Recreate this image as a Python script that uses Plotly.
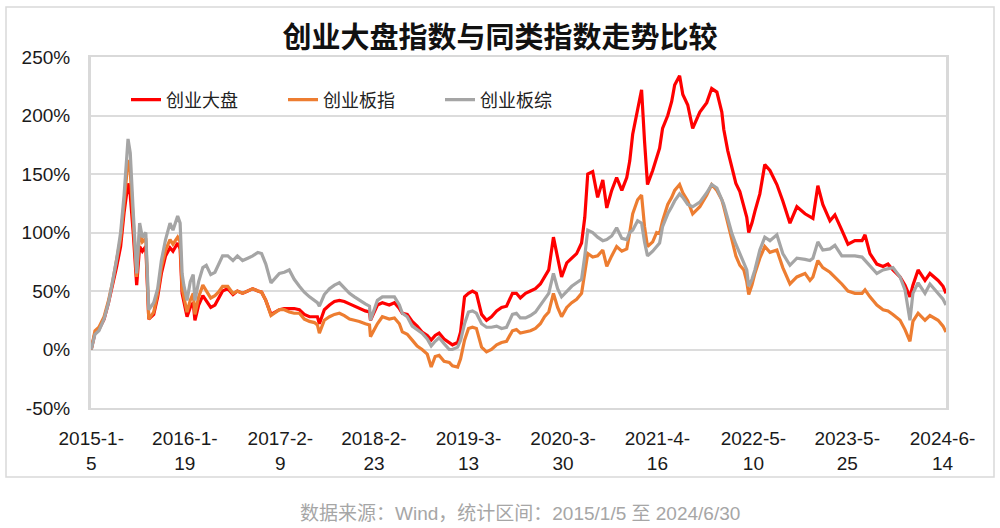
import plotly.graph_objects as go

dates = [
    "2015-01-05", "2015-01-20", "2015-02-05", "2015-02-26", "2015-03-16", "2015-04-02", "2015-04-17",
    "2015-05-04", "2015-05-18", "2015-06-03", "2015-06-12", "2015-06-24", "2015-07-08", "2015-07-20",
    "2015-07-31", "2015-08-14", "2015-08-26", "2015-09-15", "2015-10-01", "2015-10-16", "2015-11-02",
    "2015-11-20", "2015-12-02", "2015-12-21", "2015-12-31",
    "2016-01-08", "2016-01-15", "2016-01-28", "2016-02-10", "2016-02-22", "2016-02-29", "2016-03-15",
    "2016-04-01", "2016-04-15", "2016-05-03", "2016-05-20", "2016-06-03", "2016-06-20", "2016-07-11",
    "2016-08-01", "2016-08-19", "2016-09-09", "2016-09-30", "2016-10-20", "2016-11-10", "2016-11-25",
    "2016-12-12", "2016-12-26",
    "2017-01-02", "2017-02-05", "2017-02-25", "2017-03-17", "2017-04-06", "2017-04-27", "2017-05-17",
    "2017-06-07", "2017-06-27", "2017-07-09", "2017-07-17", "2017-08-06", "2017-08-27", "2017-09-16",
    "2017-10-06", "2017-10-26", "2017-11-16", "2017-12-06", "2017-12-26",
    "2018-01-19", "2018-02-05", "2018-02-09", "2018-03-09", "2018-03-29", "2018-04-26", "2018-05-17",
    "2018-06-06", "2018-06-18", "2018-07-08", "2018-07-28", "2018-08-17", "2018-09-06", "2018-09-27",
    "2018-10-13", "2018-10-29", "2018-11-14", "2018-12-04", "2018-12-25",
    "2019-01-07", "2019-01-28", "2019-02-09", "2019-02-25", "2019-03-13", "2019-03-29", "2019-04-14",
    "2019-05-05", "2019-05-25", "2019-06-14", "2019-07-05", "2019-07-25", "2019-08-14", "2019-09-07",
    "2019-09-23", "2019-10-09", "2019-10-30", "2019-11-19", "2019-12-09", "2019-12-29",
    "2020-01-15", "2020-02-01", "2020-02-20", "2020-03-08", "2020-03-24", "2020-04-14", "2020-05-04",
    "2020-05-24", "2020-06-13", "2020-06-26", "2020-07-08", "2020-07-28", "2020-08-17", "2020-09-07",
    "2020-09-23", "2020-10-13", "2020-11-02", "2020-11-23", "2020-12-13", "2020-12-25",
    "2021-01-06", "2021-01-26", "2021-02-11", "2021-02-23", "2021-03-07", "2021-03-28", "2021-04-13",
    "2021-04-25", "2021-05-07", "2021-05-28", "2021-06-13", "2021-06-25", "2021-07-15", "2021-07-28",
    "2021-08-17", "2021-09-06", "2021-10-05", "2021-11-02", "2021-11-22", "2021-12-13",
    "2022-01-02", "2022-01-10", "2022-01-26", "2022-02-12", "2022-02-28", "2022-03-16", "2022-04-01",
    "2022-04-13", "2022-04-21", "2022-05-04", "2022-05-16", "2022-06-05", "2022-06-25", "2022-07-16",
    "2022-08-13", "2022-09-06", "2022-10-05", "2022-11-02", "2022-12-05", "2022-12-25",
    "2023-01-06", "2023-01-26", "2023-02-15", "2023-03-16", "2023-04-05", "2023-05-03", "2023-05-28",
    "2023-06-25", "2023-07-24", "2023-08-05", "2023-08-25", "2023-09-22", "2023-10-17", "2023-11-06",
    "2023-11-26", "2023-12-25",
    "2024-01-14", "2024-02-03", "2024-02-15", "2024-03-07", "2024-04-04", "2024-04-24", "2024-05-27",
    "2024-06-16", "2024-06-28",
]

# 创业大盘 (%)
chinext_large = [
    0, 14, 17, 26, 40, 55, 70, 88, 117, 142, 132, 100, 55, 88, 84, 88, 26, 30, 45, 65, 80, 87, 84, 91, 86,
    48, 40, 28, 36, 40, 25, 38, 46, 42, 36, 38, 43, 50, 52, 47, 50, 48, 50, 52, 50, 49, 42, 34,
    30, 34, 35, 35, 35, 34, 30, 28, 28, 28, 22, 34, 38, 41, 42, 41, 39, 37, 35,
    33, 32, 25, 38, 40, 38, 40, 35, 31, 30, 24, 20, 15, 12, 8, 12, 14, 9, 6,
    4, 6, 15, 45, 48, 50, 48, 30, 25, 28, 33, 36, 37, 48, 48, 44, 48, 50, 52, 56,
    62, 68, 96, 78, 62, 74, 78, 82, 91, 113, 150, 152, 130, 145, 121, 136, 147, 136, 147, 161,
    184, 206, 222, 178, 141, 153, 164, 172, 189, 200, 212, 226, 234, 218, 209, 189, 203, 211, 223, 220,
    203, 188, 170, 155, 142, 135, 122, 113, 100, 108, 118, 133, 158, 153, 141, 127, 108, 122, 116, 113,
    112, 140, 124, 110, 115, 102, 90, 93, 93, 98, 82, 73, 71, 73, 68, 62,
    55, 45, 55, 68, 59, 65, 59, 54, 48,
]

# 创业板指 (%)
chinext_index = [
    0, 16, 19, 28, 42, 58, 76, 95, 125, 162, 152, 110, 62, 100, 92, 95, 26, 32, 48, 70, 85, 94, 90, 96, 92,
    52, 45, 32, 42, 48, 30, 45, 55, 50, 44, 46, 49, 54, 54, 48, 50, 48, 50, 52, 50, 49, 42, 33,
    29, 34, 34, 32, 31, 31, 26, 24, 23, 21, 14, 25, 28, 30, 31, 29, 26, 25, 24,
    22, 21, 11, 22, 28, 26, 27, 22, 15, 13, 8, 3, 0, -4, -15, -6, -5, -10, -11,
    -14, -15, -8, 8, 18, 19, 18, 2, -2, 0, 4, 6, 7, 16, 17, 14, 15, 16, 18, 22,
    28, 32, 48, 36, 28, 36, 40, 43, 48, 65, 82, 79, 80, 85, 71, 80, 88, 84, 86, 100,
    116, 128, 132, 105, 88, 92, 100, 99, 110, 124, 130, 136, 141, 134, 127, 116, 122, 132, 141, 136,
    128, 122, 108, 93, 80, 72, 68, 58, 47, 55, 65, 78, 88, 83, 85, 70, 56, 62, 65, 59,
    62, 76, 70, 66, 62, 56, 50, 48, 48, 51, 45, 38, 34, 33, 30, 25,
    17, 7, 24, 31, 25, 29, 25, 20, 15,
]

# 创业板综 (%)
chinext_composite = [
    0, 13, 16, 26, 40, 58, 76, 100, 132, 180, 168, 118, 65, 108, 96, 100, 34, 40, 52, 76, 94, 108, 102, 114, 108,
    65, 55, 42, 58, 64, 42, 58, 70, 72, 64, 66, 73, 80, 80, 76, 80, 76, 78, 80, 83, 82, 73, 62,
    57, 65, 66, 68, 60, 54, 49, 45, 42, 40, 37, 47, 52, 55, 57, 53, 48, 45, 42,
    39, 37, 25, 42, 45, 45, 45, 38, 31, 28, 20, 17, 14, 9, 3, 7, 10, 5, 0,
    0, 2, 8, 22, 32, 33, 31, 22, 19, 19, 20, 18, 19, 30, 31, 27, 27, 29, 32, 38,
    44, 48, 65, 52, 45, 50, 54, 57, 60, 80, 102, 100, 96, 93, 94, 97, 104, 95, 94, 100,
    102, 110, 108, 92, 80, 84, 88, 91, 105, 116, 122, 127, 133, 130, 124, 122, 126, 134, 141, 138,
    128, 124, 112, 99, 90, 82, 74, 68, 54, 60, 68, 85, 96, 93, 98, 82, 72, 78, 77, 76,
    78, 92, 85, 86, 89, 80, 80, 80, 79, 76, 72, 65, 68, 69, 70, 62,
    51, 25, 48, 57, 48, 56, 48, 43, 38,
]

series_names = ["创业大盘", "创业板指", "创业板综"]
series_colors = ["#FF0000", "#ED7D31", "#A5A5A5"]

tick_dates = ["2015-01-05", "2016-01-19", "2017-02-09", "2018-02-23", "2019-03-13",
              "2020-03-30", "2021-04-16", "2022-05-10", "2023-05-25", "2024-06-14"]
tick_labels = ["2015-1-<br>5", "2016-1-<br>19", "2017-2-<br>9", "2018-2-<br>23", "2019-3-<br>13",
               "2020-3-<br>30", "2021-4-<br>16", "2022-5-<br>10", "2023-5-<br>25", "2024-6-<br>14"]

y_tick_vals = [-50, 0, 50, 100, 150, 200, 250]
y_tick_text = ["-50%", "0%", "50%", "100%", "150%", "200%", "250%"]

title_text = "创业大盘指数与同类指数走势比较"
source_text = "数据来源：Wind，统计区间：2015/1/5 至 2024/6/30"

fig = go.Figure()
for name, vals, color in zip(series_names, [chinext_large, chinext_index, chinext_composite], series_colors):
    fig.add_trace(go.Scatter(x=dates, y=vals, mode="lines", name=name,
                             line=dict(color=color, width=3.2)))

latin = "Liberation Sans, Arial, Noto Sans CJK SC, sans-serif"
cjk = "Noto Sans CJK SC, sans-serif"

L, R, T, B = 91, 946, 57, 408
W, H = 1000, 528

def px2paper_x(px):
    return (px - L) / (R - L)

def px2paper_y(py):
    return (B - py) / (B - T)

fig.update_layout(
    width=W, height=H,
    margin=dict(l=L, r=W - R, t=T, b=H - B, pad=0),
    paper_bgcolor="white", plot_bgcolor="white",
    title=dict(text="<b>" + title_text + "</b>", x=0.5, xref="container", xanchor="center",
               y=1 - 38 / H, yref="container", yanchor="middle",
               font=dict(family=cjk, size=29, color="#111111")),
    showlegend=True,
    legend=dict(orientation="h", x=px2paper_x(126), xanchor="left", y=px2paper_y(100), yanchor="middle",
                font=dict(family=cjk, size=18, color="#222222"), bgcolor="rgba(0,0,0,0)",
                entrywidth=112, entrywidthmode="pixels", traceorder="normal"),
    xaxis=dict(type="date", range=["2015-01-04", "2024-06-28"], tickvals=tick_dates, ticktext=tick_labels,
               showgrid=False, zeroline=False, showline=True, linecolor="#d9d9d9", linewidth=2, mirror=True,
               ticks="", tickfont=dict(family=latin, size=19, color="#1a1a1a"), ticklabelstandoff=12),
    yaxis=dict(range=[-50, 250], tickvals=y_tick_vals, ticktext=y_tick_text, showgrid=True,
               gridcolor="#dcdcdc", gridwidth=1.5, zeroline=False, showline=True, linecolor="#d9d9d9",
               linewidth=3, mirror=True, ticks="", tickfont=dict(family=latin, size=19, color="#1a1a1a"),
               ticklabelstandoff=14),
    shapes=[dict(type="rect", xref="paper", yref="paper",
                 x0=px2paper_x(6), x1=px2paper_x(994), y0=px2paper_y(477), y1=px2paper_y(7),
                 line=dict(color="#d9d9d9", width=1.5), fillcolor="rgba(0,0,0,0)", layer="below")],
    annotations=[dict(text=source_text, xref="paper", yref="paper", x=px2paper_x(520), y=px2paper_y(513),
                      xanchor="center", yanchor="middle", showarrow=False,
                      font=dict(family=latin, size=19, color="#a6a6a6"))],
)

fig.write_html("out.html", config={"displayModeBar": False},
               post_script="document.body.style.margin='0';")
